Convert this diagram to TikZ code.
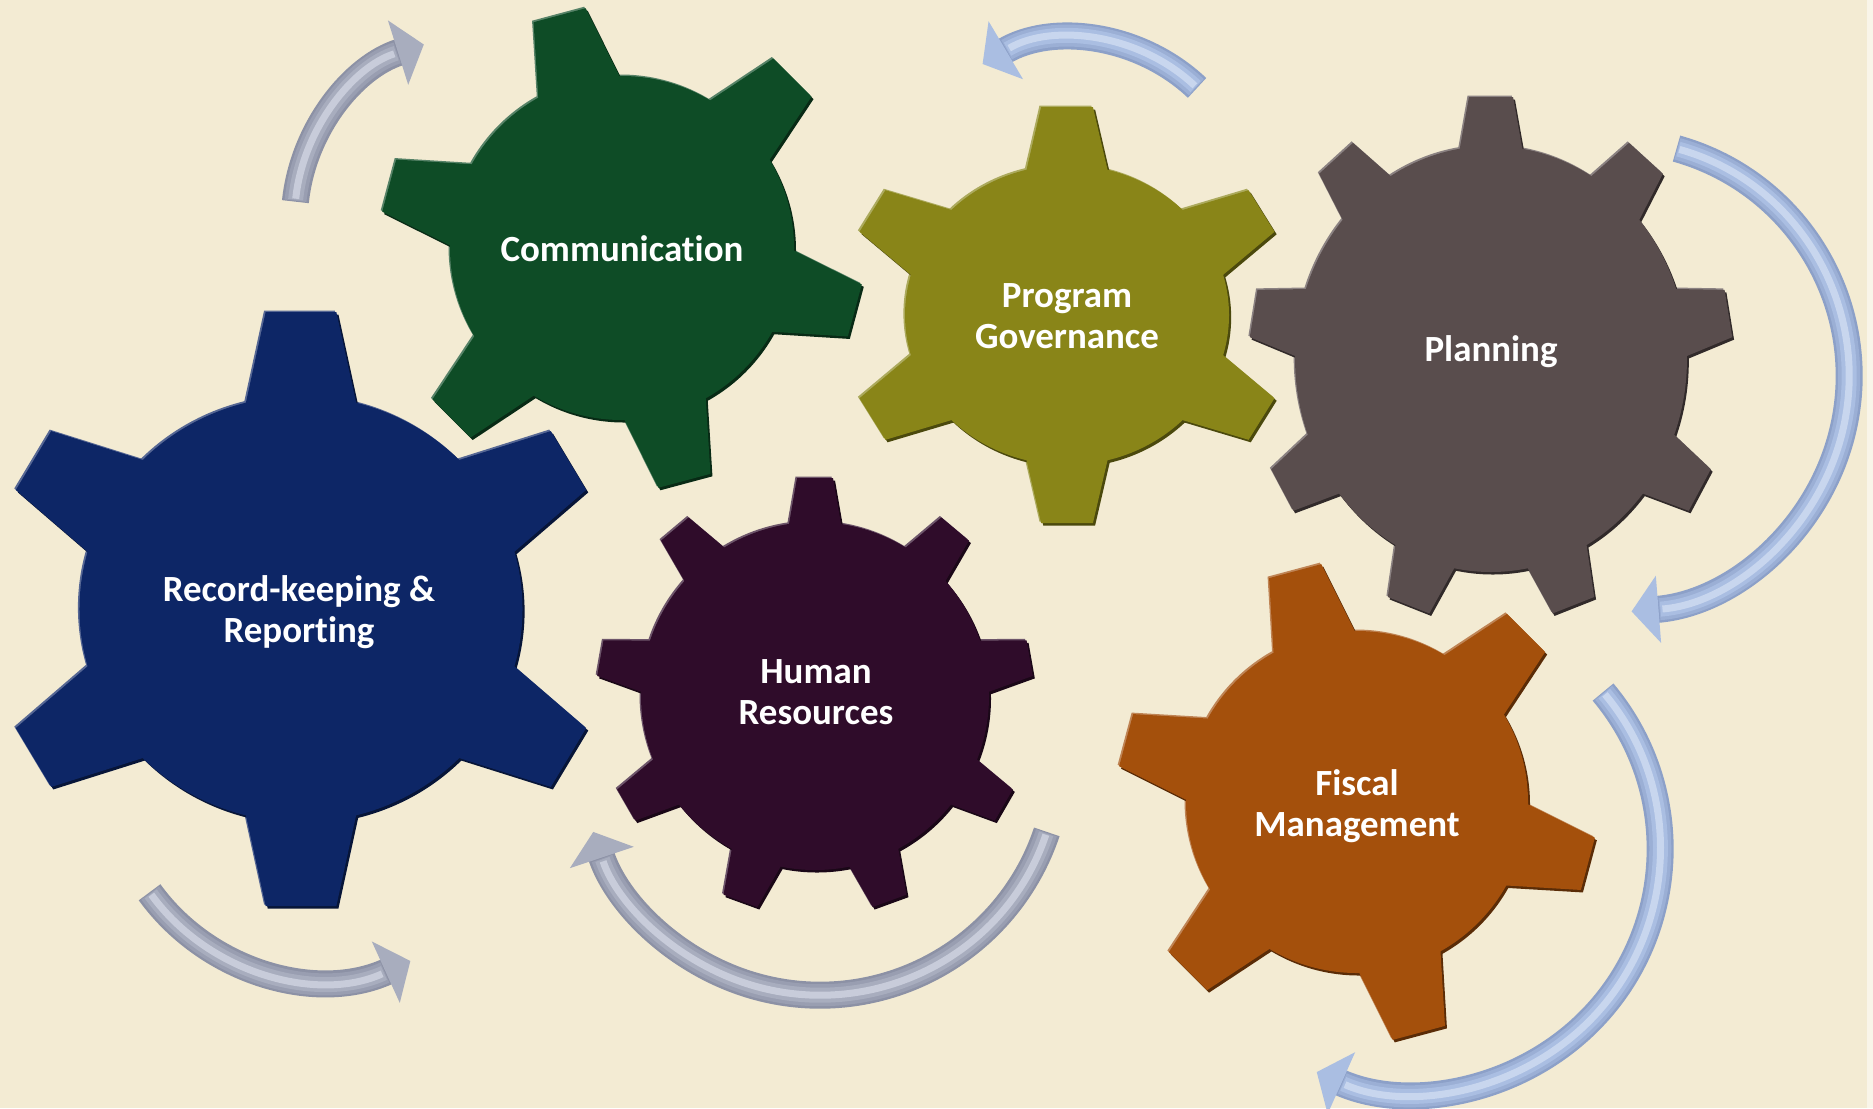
\documentclass[tikz,border=0pt]{standalone}
\usepackage{fontspec}
\setmainfont{Carlito}[Ligatures={NoCommon}]
\usetikzlibrary{arrows.meta}
\definecolor{bg}{RGB}{243,235,211}
\definecolor{gblue}{RGB}{13,38,102}
\definecolor{ggreen}{RGB}{14,76,38}
\definecolor{golive}{RGB}{137,133,24}
\definecolor{gtaupe}{RGB}{89,77,77}
\definecolor{gpurple}{RGB}{47,12,42}
\definecolor{gorange}{RGB}{164,80,12}
\definecolor{ablue}{RGB}{140,160,200}
\definecolor{abluea}{RGB}{155,175,213}
\definecolor{abluem}{RGB}{170,190,226}
\definecolor{ablueh}{RGB}{200,214,238}
\definecolor{agrey}{RGB}{140,145,165}
\definecolor{agreya}{RGB}{153,158,177}
\definecolor{agreym}{RGB}{168,173,190}
\definecolor{agreyh}{RGB}{200,204,218}
\newcommand\gearbody[7]{%
  \path[#7] (0,0) circle[radius=#3];
  \foreach \k in {1,...,#1}{%
    \pgfmathsetmacro\xb{#3*sqrt(1-(#6/#3)^2)}%
    \path[#7, rotate={#2+360*\k/#1}] (0,-#6) -- (\xb,-#6) -- (#4,-#5) -- (#4,#5) -- (\xb,#6) -- (0,#6) -- cycle;
  }%
}
\newcommand\gear[7]{%
  \begin{scope}[shift={(-1.5,-1.5)}]\gearbody{#2}{#3}{#4}{#5}{#6}{#7}{fill=#1!70!white}\end{scope}
  \begin{scope}[shift={(2,2.5)}]\gearbody{#2}{#3}{#4}{#5}{#6}{#7}{fill=#1!55!black}\end{scope}
  \gearbody{#2}{#3}{#4}{#5}{#6}{#7}{fill=#1}
}
\tikzset{
  lbl/.style={text=white, font=\fontsize{10.5pt}{11.55pt}\selectfont\bfseries, align=center, inner sep=0pt},
  arr/.style={line width=0.27cm, draw=#1, -{Triangle[width=0.66cm,length=0.27cm,color=#1m]}},
  arra/.style={line width=0.22cm, draw=#1, shorten >=0.28cm, shorten <=0.01cm},
  arrmid/.style={line width=0.15cm, draw=#1, shorten >=0.29cm, shorten <=0.02cm},
  arrhi/.style={line width=0.07cm, draw=#1, shorten >=0.31cm, shorten <=0.03cm}
}
\begin{document}
\begin{tikzpicture}[x=0.01cm, y=-0.01cm]
\useasboundingbox (0,0) rectangle (1873,1108);
\fill[bg] (0,0) rectangle (1873,1108);
\fill[bg!50!white] (1867,0) rectangle (1873,1108);

% gears
\begin{scope}[shift={(301,609)}, xscale=1.04]\gear{gblue}{6}{90}{213}{297}{34}{53}\end{scope}
\begin{scope}[shift={(622,248)}]\gear{ggreen}{6}{45}{172}{241}{27}{42}\end{scope}
\begin{scope}[shift={(1067,315)}, xscale=1.08]\gear{golive}{6}{90}{150}{208}{24}{37.5}\end{scope}
\begin{scope}[shift={(1491,359)}, xscale=0.92]\gear{gtaupe}{9}{10}{213}{262}{24}{34}\end{scope}
\begin{scope}[shift={(815,696)}]\gear{gpurple}{9}{10}{174}{218}{18}{26}\end{scope}
\begin{scope}[shift={(1357,802)}]\gear{gorange}{6}{45}{171}{239}{27}{42}\end{scope}

% labels
\node[lbl] (rec) at (299,612) {Record-keeping \&\\Reporting};
\node[lbl] (com) at (622,249) {Communication};
\node[lbl] (gov) at (1067,316) {Program\\Governance};
\node[lbl] (pla) at (1491,352) {Planning};
\node[lbl] (hum) at (816,692) {Human\\Resources};
\node[lbl] (fis) at (1357,806) {Fiscal\\Management};

% curved arrows
\coordinate (cA) at (479.5,221);
\coordinate (cB) at (1074,218);
\coordinate (cC) at (1613,376);
\coordinate (cD) at (1416,849);
\coordinate (cE) at (820,756);
\coordinate (cF) at (322,767);
\foreach \c/\a/\b/\r/\col in {cA/174/107.5/1.85/agrey, cB/46.6/120.7/1.79/ablue, cC/74.4/-85.5/2.36/ablue, cD/40/-114/2.44/ablue, cE/-18.5/-161.5/2.39/agrey, cF/-144/-65.5/2.13/agrey}{
  \draw[arr=\col] ([shift={(\a:\r cm)}]\c) arc[start angle=\a, end angle=\b, radius=\r cm];
  \draw[arra=\col a] ([shift={(\a:\r cm)}]\c) arc[start angle=\a, end angle=\b, radius=\r cm];
  \draw[arrmid=\col m] ([shift={(\a:\r cm)}]\c) arc[start angle=\a, end angle=\b, radius=\r cm];
  \draw[arrhi=\col h] ([shift={(\a:\r cm)}]\c) arc[start angle=\a, end angle=\b, radius=\r cm];
}
\end{tikzpicture}
\end{document}
